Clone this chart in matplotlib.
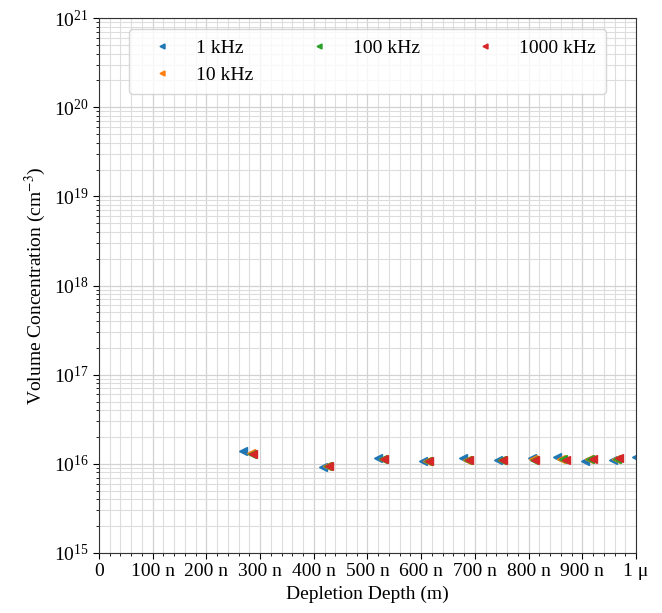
import matplotlib
matplotlib.use("Agg")
import matplotlib.pyplot as plt
from matplotlib.ticker import FixedLocator, FixedFormatter, LogLocator, LogFormatterMathtext, NullFormatter, MultipleLocator

plt.rcParams['font.family'] = ['Liberation Serif', 'DejaVu Serif']
plt.rcParams['mathtext.fontset'] = 'stix'

# depletion depth in nm, concentration in cm^-3
depth_1k = [268.7, 416.6, 520.0, 602.8, 678.4, 743.6, 805.8, 853.4, 905.0, 956.6, 1000.0]
conc_1k = [1.39e16, 9.15e15, 1.15e16, 1.08e16, 1.15e16, 1.10e16, 1.15e16, 1.20e16, 1.08e16, 1.10e16, 1.20e16]
depth_10k = [283.0, 425.0, 528.0, 611.0, 686.0, 750.0, 808.0, 860.0, 912.0, 962.0, 1012.0]
conc_10k = [1.31e16, 9.40e15, 1.14e16, 1.07e16, 1.11e16, 1.10e16, 1.13e16, 1.13e16, 1.12e16, 1.13e16, 1.13e16]
depth_100k = [285.0, 427.0, 529.0, 613.0, 688.0, 751.0, 810.0, 863.5, 914.0, 964.0, 1015.0]
conc_100k = [1.30e16, 9.45e15, 1.13e16, 1.07e16, 1.10e16, 1.10e16, 1.11e16, 1.13e16, 1.13e16, 1.13e16, 1.14e16]
depth_1000k = [287.3, 428.9, 530.7, 615.0, 689.6, 752.9, 811.9, 869.6, 920.5, 969.0, 1020.0]
conc_1000k = [1.29e16, 9.46e15, 1.13e16, 1.07e16, 1.10e16, 1.10e16, 1.10e16, 1.10e16, 1.13e16, 1.15e16, 1.15e16]

series_labels = ["1 kHz", "10 kHz", "100 kHz", "1000 kHz"]
series_colors = ["#1f77b4", "#ff7f0e", "#2ca02c", "#d62728"]

xtick_values_nm = [0, 100, 200, 300, 400, 500, 600, 700, 800, 900, 1000]
xtick_labels = ["0", "100 n", "200 n", "300 n", "400 n", "500 n", "600 n", "700 n", "800 n", "900 n", "1 \u03bc"]
ytick_values = [1e15, 1e16, 1e17, 1e18, 1e19, 1e20, 1e21]

fig = plt.figure(figsize=(6.62, 6.13), dpi=100)
ax = fig.add_axes([0.1495, 0.0979, 0.8112, 0.8727])

all_depths = [depth_1k, depth_10k, depth_100k, depth_1000k]
all_concs = [conc_1k, conc_10k, conc_100k, conc_1000k]
for d, c, lab, col in zip(all_depths, all_concs, series_labels, series_colors):
    ax.plot([v * 1e-9 for v in d], c, linestyle='none', marker='<', markersize=6,
            color=col, label=lab)

ax.set_yscale('log')
ax.set_xlim(0, 1e-6)
ax.set_ylim(ytick_values[0], ytick_values[-1])

ax.xaxis.set_major_locator(FixedLocator([v * 1e-9 for v in xtick_values_nm]))
ax.xaxis.set_major_formatter(FixedFormatter(xtick_labels))
ax.xaxis.set_minor_locator(MultipleLocator(20e-9))
ax.yaxis.set_major_locator(FixedLocator(ytick_values))
ax.yaxis.set_major_formatter(LogFormatterMathtext())
ax.yaxis.set_minor_locator(LogLocator(base=10, subs=range(2, 10), numticks=100))
ax.yaxis.set_minor_formatter(NullFormatter())

ax.tick_params(axis='both', which='major', labelsize=14, length=4)
ax.tick_params(axis='both', which='minor', length=2)

ax.grid(True, which='major', color='#d2d2d2', linewidth=0.9)
ax.grid(True, which='minor', color='#dddddd', linewidth=0.8)
ax.set_axisbelow(True)

ax.set_xlabel("Depletion Depth (m)", fontsize=14)
ax.set_ylabel("Volume Concentration (cm$^{-3}$)", fontsize=14)

ax.legend(loc='upper center', ncol=3, fontsize=14, markerscale=0.6,
          handlelength=2.4, handletextpad=0.55, columnspacing=2.15,
          borderpad=0.5, bbox_to_anchor=(0.5, 0.99), borderaxespad=0.3)

for s in ax.spines.values():
    s.set_color('#333333')

fig.savefig("out.png", dpi=100)
